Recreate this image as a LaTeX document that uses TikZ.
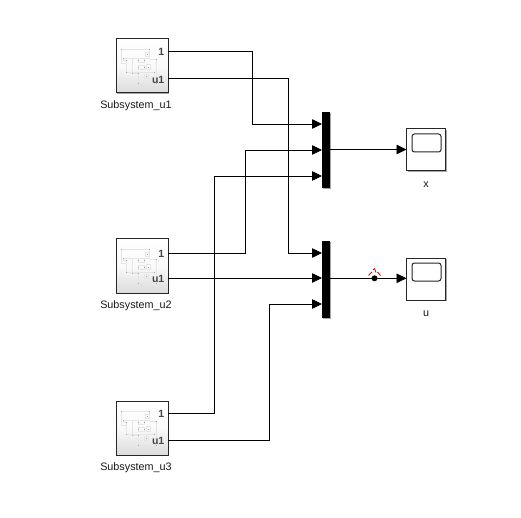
\documentclass[tikz,border=0pt]{standalone}
\usepackage{fontspec}
\setmainfont{Liberation Sans}
\usetikzlibrary{arrows.meta,shadows,fadings}
\tikzset{
  x=1pt,y=-1pt,
  wire/.style={draw=black,line width=0.8pt,-{Triangle[length=10pt,width=9.5pt]}},
  subbox/.style={draw=black!85,line width=1pt,minimum width=52pt,minimum height=54pt,inner sep=0pt,
     top color=white,bottom color=black!14,middle color=black!2,
     drop shadow={shadow xshift=1.2pt,shadow yshift=-1.2pt,opacity=.35,fill=black}},
  muxbar/.style={fill=black,draw=none,minimum width=8pt,minimum height=76pt,inner sep=0pt,
     drop shadow={shadow xshift=1.2pt,shadow yshift=-1pt,opacity=.35,fill=black}},
  scopebox/.style={draw=black!85,fill=white,line width=1pt,minimum width=39pt,minimum height=42pt,inner sep=0pt,
     drop shadow={shadow xshift=1.4pt,shadow yshift=-1.4pt,opacity=.35,fill=black}},
  lab/.style={font=\fontsize{10.8}{12}\selectfont,text=black!90,inner sep=0pt},
  port/.style={font=\fontsize{10.5}{12}\selectfont\bfseries,text=black!72,inner sep=0pt},
  faint/.style={draw=black!10,line width=0.4pt},
  speck/.style={fill=black!35,draw=none},
}
\newcommand{\subinner}[1]{%
  \begin{scope}[shift={(#1)}]
    \draw[faint] (-21,-17) -- (7,-17) -- (7,-8) -- (-19,-8) -- (-19,-6) -- (-16,-6) -- (-16,6) -- (12,6);
    \draw[faint] (-21,-17) -- (-21,-3) -- (-16,-3);
    \draw[faint] (-10,-8) -- (-10,7) -- (-4,7) -- (-4,17) -- (14,17) -- (14,-7) -- (8,-7);
    \draw[faint] (-4,-8) rectangle (2,-4);
    \draw[faint] (-4,-1) rectangle (2,3);
    \draw[faint] (3,-14) rectangle (7,-10);
    \draw[faint] (4,-2) rectangle (8,3);
    \draw[faint] (2,8) rectangle (6,12);
    \foreach \px/\py in {-21/-17,-19/-8,-16/-6,-16/6,-10/7,-4/7,-4/-6,2/-6,-4/1,2/1,5/-12,6/1,4/10,12/6,14/-7,7/-17,-4/17,14/17}{
      \fill[speck] (\px-.4,\py-.4) rectangle (\px+.4,\py+.4);}
  \end{scope}}
\begin{document}
\begin{tikzpicture}
\useasboundingbox (0,0) rectangle (521,518);
\fill[white] (0,0) rectangle (521,518);
\foreach \n/\cy/\oy/\uy/\t in {A/66/51/78.5/Subsystem\_u1,B/266/253/278/Subsystem\_u2,C/428/413/440/Subsystem\_u3}{
  \node[subbox] (\n) at (142,\cy) {};
  \subinner{142,\cy}
  \node[port,anchor=east] (\n p) at (164.5,\oy+1) {1};
  \node[port,anchor=east] (\n q) at (164.5,\uy+1) {u1};
  \node[lab] (\n t) at (136,\cy+39.5) {\t};
  \coordinate (\n o) at (168,\oy);
  \coordinate (\n u) at (168,\uy);
}
\node[muxbar] (M) at (326,150) {};
\node[muxbar] (N) at (326,279.5) {};
\node[scopebox] (X) at (426,150) {};
\node[scopebox] (U) at (426,279) {};
\draw[line width=1pt,draw=black!85,rounded corners=2.5pt] (412,134) rectangle (441,152);
\draw[line width=1pt,draw=black!85,rounded corners=2.5pt] (412,263) rectangle (441,281);
\node[lab] (xl) at (426,184.5) {x};
\node[lab] (ul) at (426,313.5) {u};
\coordinate (M1) at (322,124);
\coordinate (M2) at (322,150);
\coordinate (M3) at (322,176);
\coordinate (N1) at (322,253);
\coordinate (N2) at (322,278);
\coordinate (N3) at (322,304);
\draw[wire] (Ao) -| (252,124) -- (M1);
\draw[wire] (Au) -| (288.5,253) -- (N1);
\draw[wire] (Bo) -| (245.5,150) -- (M2);
\draw[wire] (Bu) -- (N2);
\draw[wire] (Co) -| (214,176) -- (M3);
\draw[wire] (Cu) -| (269,304) -- (N3);
\draw[wire] (330,149.5) -- (406.5,149.5);
\draw[wire] (330,278.3) -- (406.5,278.3);
\fill[black] (374.5,278.3) circle (3pt);
\draw[red,line width=0.9pt] (368.5,275.5) -- (372,272);
\draw[red,line width=0.9pt] (377.5,272) -- (380.5,275.5);
\draw[red,line width=0.9pt] (374.5,268.5) -- (376,272.5);
\draw[red,line width=0.9pt] (373,270) -- (374.5,268.5);
\end{tikzpicture}
\end{document}
